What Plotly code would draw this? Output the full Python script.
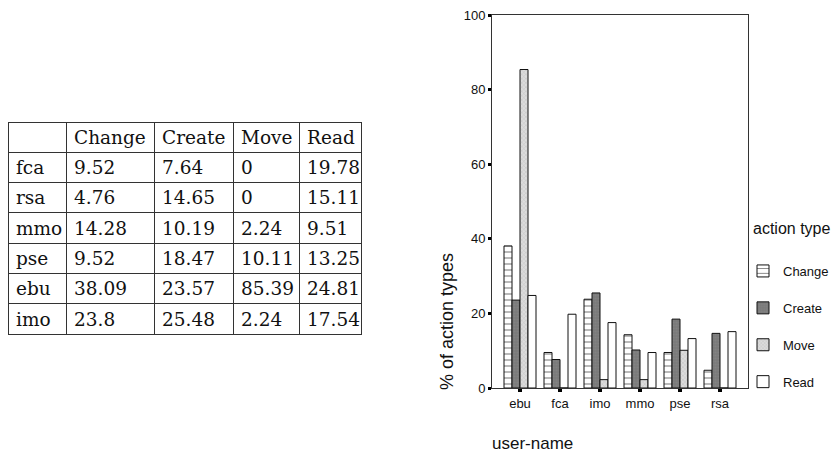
import plotly.graph_objects as go

# ---- data ----
users = ["ebu", "fca", "imo", "mmo", "pse", "rsa"]
change = [38.09, 9.52, 23.8, 14.28, 9.52, 4.76]
create = [23.57, 7.64, 25.48, 10.19, 18.47, 14.65]
move = [85.39, 0, 2.24, 2.24, 10.11, 0]
read = [24.81, 19.78, 17.54, 9.51, 13.25, 15.11]

table_header = ["", "Change", "Create", "Move", "Read"]
table_rows = ["fca", "rsa", "mmo", "pse", "ebu", "imo"]
t_change = ["9.52", "4.76", "14.28", "9.52", "38.09", "23.8"]
t_create = ["7.64", "14.65", "10.19", "18.47", "23.57", "25.48"]
t_move = ["0", "0", "2.24", "10.11", "85.39", "2.24"]
t_read = ["19.78", "15.11", "9.51", "13.25", "24.81", "17.54"]

yticks = [0, 20, 40, 60, 80, 100]

# page body has an 8px margin: figure is drawn from (8, 8)
OFF = 8
W, H = 839 - OFF, 453 - OFF


def px(x):
    return max(0.0, min(1.0, (x - OFF) / W))


def py(y):
    return max(0.0, min(1.0, 1 - (y - OFF) / H))


fig = go.Figure()

# ---- table ----
tfont = dict(family="DejaVu Serif", size=18.5, color="#111")
fig.add_trace(go.Table(
    domain=dict(x=[px(8), px(361)], y=[0, py(122)]),
    columnwidth=[58, 88, 79, 66, 62],
    header=dict(values=table_header, align="left", font=tfont, height=30.3,
                line=dict(color="#333", width=1), fill=dict(color="white")),
    cells=dict(values=[table_rows, t_change, t_create, t_move, t_read],
               align="left", font=tfont, height=30.3,
               line=dict(color="#333", width=1), fill=dict(color="white")),
))

# ---- bars ----
styles = [
    ("Change", change, dict(shape="-", bgcolor="white", fgcolor="#111", size=6, solidity=0.2), "white"),
    ("Create", create, dict(shape=".", bgcolor="#7a7a7a", fgcolor="#8c8c8c", size=3, solidity=0.4), "#7a7a7a"),
    ("Move", move, dict(shape="x", bgcolor="#dcdcdc", fgcolor="#a8a8a8", size=3, solidity=0.3), "#dcdcdc"),
    ("Read", read, dict(shape="", bgcolor="white"), "white"),
]
for name, vals, pat, col in styles:
    fig.add_trace(go.Bar(
        x=users, y=vals, name=name, legendgroup=name,
        marker=dict(color=col, pattern=pat, line=dict(color="#111", width=1)),
    ))

fig.update_layout(
    width=W, height=H,
    margin=dict(l=0, r=0, t=0, b=0, autoexpand=False),
    paper_bgcolor="white", plot_bgcolor="white",
    barmode="group", bargap=0.2, bargroupgap=0,
    font=dict(family="Liberation Sans", size=13, color="#111"),
    xaxis=dict(domain=[px(492), px(748)], range=[-0.7, 5.7],
               showline=True, linecolor="#333", linewidth=1, mirror=True,
               ticks="outside", ticklen=3, tickwidth=4, tickcolor="#000",
               tickfont=dict(size=13), showgrid=False, zeroline=False),
    yaxis=dict(domain=[py(388), py(15)], range=[0, 100],
               tickvals=yticks, showline=True, linecolor="#333", linewidth=1,
               mirror=True, ticks="outside", ticklen=3, tickwidth=3,
               tickcolor="#000", tickfont=dict(size=13),
               ticklabeloverflow="allow",
               showgrid=False, zeroline=False),
    legend=dict(x=px(743), xanchor="left", y=py(256), yanchor="top",
                font=dict(size=13), tracegroupgap=17, itemwidth=30,
                bgcolor="rgba(0,0,0,0)"),
    annotations=[
        dict(text="% of action types", x=px(447), y=py(322), xref="paper",
             yref="paper", showarrow=False, textangle=-90,
             font=dict(size=18), xanchor="center", yanchor="middle"),
        dict(text="user-name", x=px(532), y=py(443), xref="paper",
             yref="paper", showarrow=False, font=dict(size=17),
             xanchor="center", yanchor="middle"),
        dict(text="action type", x=px(751), y=py(228), xref="paper",
             yref="paper", showarrow=False, font=dict(size=16),
             xanchor="left", yanchor="middle"),
    ],
)

fig.write_html("out.html")
